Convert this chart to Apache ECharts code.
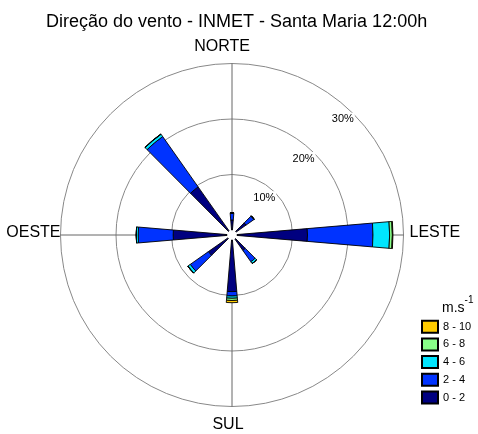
<!DOCTYPE html>
<html>
<head>
<meta charset="utf-8">
<script src="https://cdn.jsdelivr.net/npm/echarts@6/dist/echarts.min.js"></script>
<style>
  html, body { margin: 0; padding: 0; background: #fff; }
  #chart { width: 478px; height: 434px; }
</style>
</head>
<body>
<div id="chart"></div>
<script>
// Wind directions, their bearing (degrees clockwise from north) and
// frequency (%) per speed class
const directions = ['NORTE', 'NE', 'LESTE', 'SE', 'SUL', 'SO', 'OESTE', 'NO'];
const bearings   = [0, 50, 90, 140, 180, 230, 270, 320];
const speedClasses = ['0 - 2', '2 - 4', '4 - 6', '6 - 8', '8 - 10'];
const speed0to2  = [1.8, 2.2, 12.7, 2.5, 9.3, 4.3, 9.7, 9.7];
const speed2to4  = [1.2, 1.7, 11.8, 2.5, 0.8, 4.0, 6.3, 11.1];
const speed4to6  = [0.1, 0.1, 3.0, 0.4, 0.4, 0.5, 0.35, 0.5];
const speed6to8  = [0, 0, 0.5, 0, 0.4, 0.05, 0, 0.05];
const speed8to10 = [0, 0, 0.1, 0, 0.4, 0, 0, 0];
const ringTicks = [10, 20, 30];

const classData = [speed0to2, speed2to4, speed4to6, speed6to8, speed8to10];
const classColors = ['#000080', '#0033ff', '#00e5ff', '#88ff88', '#ffcc00'];

const FONT = 'Liberation Sans, Arial, sans-serif';
const CENTER = [232, 235];
const RADIUS = [5, 171.5];
const SECTOR = 10; // angular step of the direction axis, degrees

// Angle axis: one slot every 10 degrees; bars sit on their bearing
const angleSlots = [];
for (let a = 0; a < 360; a += SECTOR) angleSlots.push(String(a));
const slotOf = b => Math.round(b / SECTOR);
const toSlots = values => {
  const out = angleSlots.map(() => null);
  values.forEach((v, i) => { out[slotOf(bearings[i])] = v; });
  return out;
};
const nameAt = {};
bearings.forEach((b, i) => { nameAt[String(b)] = directions[i]; });

// per-direction label nudges (rich-text paddings)
const dirLabelRich = {
  n: { fontSize: 16, color: '#000', fontFamily: FONT, padding: [0, 20, 9, 0] },
  e: { fontSize: 16, color: '#000', fontFamily: FONT, padding: [0, 0, 4, 6] },
  s: { fontSize: 16, color: '#000', fontFamily: FONT, padding: [10, 8, 0, 0] },
  w: { fontSize: 16, color: '#000', fontFamily: FONT, padding: [0, 0, 4, 0] }
};
const dirLabelKey = { NORTE: 'n', LESTE: 'e', SUL: 's', OESTE: 'w' };

const chart = echarts.init(document.getElementById('chart'), null, { renderer: 'canvas' });

const series = classData.map((values, i) => ({
  type: 'bar',
  name: speedClasses[i],
  coordinateSystem: 'polar',
  polarIndex: 0,
  stack: 'freq',
  barWidth: '97%',
  data: toSlots(values),
  itemStyle: { color: classColors[i], borderColor: '#000', borderWidth: 0.9 },
  emphasis: { disabled: true },
  z: 3
}));

const ringMax = ringTicks[ringTicks.length - 1];
const ringStep = ringTicks[1] - ringTicks[0];
const quarter = 90 / SECTOR - 1; // show every 90 degrees

chart.setOption({
  animation: false,
  textStyle: { fontFamily: FONT },
  title: [
    {
      text: 'Direção do vento - INMET - Santa Maria 12:00h',
      left: 41,
      top: 8,
      textStyle: { fontSize: 18, fontWeight: 'normal', color: '#000', fontFamily: FONT }
    },
    {
      text: '{u|m.s}{p|-1}',
      left: 442,
      top: 295,
      padding: 0,
      textStyle: {
        fontFamily: FONT,
        fontWeight: 'normal',
        rich: {
          u: { fontSize: 14, color: '#000', fontWeight: 'normal', fontFamily: FONT, lineHeight: 20, verticalAlign: 'bottom' },
          p: { fontSize: 10, color: '#000', fontWeight: 'normal', fontFamily: FONT, lineHeight: 20, verticalAlign: 'top' }
        }
      }
    }
  ],
  legend: {
    orient: 'vertical',
    left: 421,
    top: 319.7,
    padding: 0,
    data: speedClasses.slice().reverse(),
    icon: 'rect',
    itemWidth: 16,
    itemHeight: 12,
    itemGap: 3.7,
    textStyle: { fontSize: 11, color: '#000', fontFamily: FONT },
    selectedMode: false
  },
  polar: [
    { center: CENTER, radius: RADIUS },
    { center: CENTER, radius: RADIUS }
  ],
  angleAxis: [
    {
      polarIndex: 0,
      type: 'category',
      data: angleSlots,
      boundaryGap: false,
      startAngle: 90,
      clockwise: true,
      axisLine: { show: false },
      axisTick: { show: false },
      splitLine: { show: true, interval: quarter, lineStyle: { color: '#666', width: 1 } },
      axisLabel: {
        interval: quarter,
        margin: 0,
        formatter: v => {
          const name = nameAt[v];
          return name ? '{' + dirLabelKey[name] + '|' + name + '}' : '';
        },
        rich: dirLabelRich
      },
      z: 1
    },
    {
      polarIndex: 1,
      type: 'value',
      min: 0,
      max: 360,
      startAngle: 45,
      show: false
    }
  ],
  radiusAxis: [
    { polarIndex: 0, type: 'value', min: 0, max: ringMax, show: false },
    {
      polarIndex: 1,
      type: 'value',
      min: 0,
      max: ringMax,
      interval: ringStep,
      axisLine: { show: false },
      axisTick: { show: false },
      splitLine: { show: true, lineStyle: { color: ['rgba(0,0,0,0)', '#888', '#888', '#888'], width: 1 } },
      axisLabel: {
        margin: 0,
        align: 'center',
        verticalAlign: 'middle',
        padding: [11, 21, 0, 0],
        formatter: v => (v === 0 ? '' : '{t|' + v + '%}'),
        rich: {
          t: { fontSize: 11, color: '#000', fontFamily: FONT, backgroundColor: '#fff', padding: [1, 1, 1, 1] }
        }
      },
      z: 1
    }
  ],
  series: series
});
</script>
</body>
</html>
